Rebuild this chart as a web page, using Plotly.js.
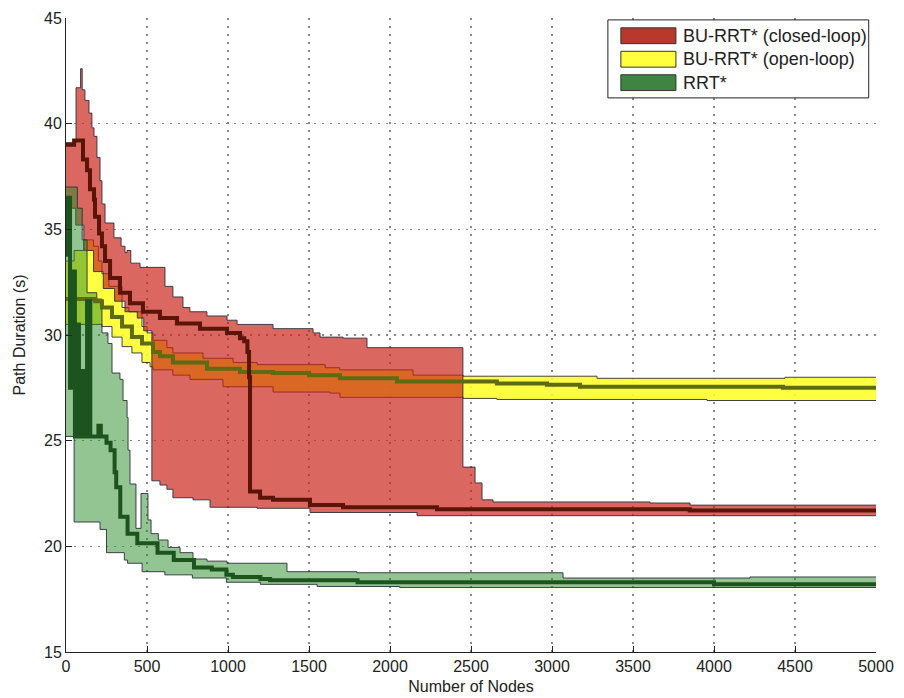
<!DOCTYPE html>
<html>
<head>
<meta charset="utf-8">
<script src="https://cdn.plot.ly/plotly-3.0.1.min.js"></script>
<style>html,body{margin:0;padding:0;background:#fff;}#chart{width:904px;height:698px;}</style>
</head>
<body>
<div id="chart"></div>
<script>
// ---- BU-RRT* (closed-loop) ----
var closedUpperX = [0, 62, 90, 100, 117, 142, 160, 173, 191, 210, 222, 241, 296, 340, 364, 377, 400, 457, 611, 660, 722, 765, 870, 994, 1056, 1278, 1525, 1568, 1710, 1858, 2450, 2525, 2568, 2636, 3605, 3852, 5000];
var closedUpperY = [39.1, 41.7, 42.6, 41.6, 41.1, 40.5, 39.8, 39.4, 38.4, 37.3, 36.2, 35.3, 34.6, 34.2, 33.9, 34.0, 33.4, 33.2, 32.3, 31.8, 31.3, 31.1, 30.9, 30.7, 30.5, 30.3, 30.1, 29.9, 29.85, 29.4, 23.75, 23.0, 22.2, 22.1, 22.05, 21.95, 21.95];
var closedLowerX = [0, 60, 110, 170, 230, 300, 364, 440, 480, 530, 580, 623, 660, 784, 889, 1179, 1506, 2167, 5000];
var closedLowerY = [36.0, 35.2, 34.0, 33.0, 32.2, 31.6, 31.1, 30.8, 30.2, 23.1, 22.9, 22.7, 22.3, 22.2, 21.85, 21.8, 21.6, 21.45, 21.45];
var closedMeanX = [0, 50, 105, 130, 148, 173, 179, 204, 222, 241, 272, 333, 395, 475, 580, 685, 827, 994, 1074, 1100, 1120, 1130, 1136, 1198, 1278, 1506, 1710, 2290, 3850, 5000];
var closedMeanY = [39.0, 39.2, 38.3, 37.8, 36.9, 36.4, 35.6, 34.8, 34.2, 33.5, 32.7, 32.0, 31.5, 31.1, 30.8, 30.55, 30.3, 30.1, 29.85, 29.7, 29.2, 28.0, 22.6, 22.3, 22.2, 21.95, 21.85, 21.75, 21.7, 21.7];

// ---- BU-RRT* (open-loop) ----
var openUpperX = [0, 50, 110, 170, 200, 222, 265, 346, 389, 469, 500, 537, 623, 660, 846, 1031, 1180, 1600, 1690, 2142, 2451, 3278, 4438, 5000];
var openUpperY = [33.5, 34.0, 34.5, 34.2, 33.5, 32.9, 32.3, 31.3, 31.1, 30.4, 30.1, 29.75, 29.4, 29.15, 28.9, 28.7, 28.6, 28.45, 28.35, 28.1, 28.05, 27.95, 28.0, 28.0];
var openLowerX = [0, 222, 284, 346, 407, 469, 519, 537, 660, 765, 969, 1278, 1630, 1691, 2451, 2660, 3957, 5000];
var openLowerY = [30.5, 30.4, 29.9, 29.45, 29.15, 28.7, 28.5, 28.35, 28.1, 27.9, 27.55, 27.3, 27.25, 27.05, 27.0, 26.95, 26.9, 26.9];
var openMeanX = [0, 180, 222, 284, 346, 407, 469, 537, 580, 660, 870, 1074, 1278, 1500, 1691, 2043, 2660, 2969, 3173, 4426, 5000];
var openMeanY = [31.7, 31.6, 31.3, 30.85, 30.4, 29.9, 29.6, 29.2, 29.0, 28.7, 28.4, 28.25, 28.2, 28.1, 27.95, 27.8, 27.7, 27.65, 27.55, 27.5, 27.5];

// ---- RRT* ----
var rrtUpperX = [0, 40, 70, 100, 130, 190, 222, 259, 284, 333, 352, 377, 383, 395, 432, 463, 506, 525, 570, 630, 704, 784, 870, 994, 1364, 1796, 3068, 4222, 5000];
var rrtUpperY = [37.0, 37.0, 36.0, 34.5, 32.0, 31.7, 30.1, 29.6, 28.2, 27.9, 26.9, 26.1, 24.55, 22.95, 20.85, 22.5, 21.25, 20.6, 20.3, 19.95, 19.7, 19.4, 19.3, 19.2, 18.8, 18.75, 18.5, 18.55, 18.55];
var rrtLowerX = [0, 50, 210, 250, 360, 380, 470, 610, 780, 990, 1200, 1550, 2060, 5000];
var rrtLowerY = [25.2, 21.15, 20.8, 19.7, 19.35, 19.2, 18.8, 18.65, 18.5, 18.3, 18.2, 18.1, 18.05, 18.05];
var rrtMeanX = [0, 12, 25, 40, 55, 70, 80, 100, 112, 130, 150, 200, 215, 250, 275, 300, 310, 335, 380, 440, 565, 665, 790, 900, 990, 1030, 1200, 1260, 1800, 4000, 5000];
var rrtMeanY = [33.8, 36.5, 27.5, 33.0, 25.2, 30.5, 25.2, 28.3, 25.2, 31.6, 25.2, 25.7, 25.2, 24.9, 24.55, 23.5, 22.8, 21.4, 20.6, 20.15, 19.7, 19.35, 19.0, 18.9, 18.65, 18.55, 18.45, 18.4, 18.3, 18.2, 18.2];

var seriesNames = ['BU-RRT* (closed-loop)', 'BU-RRT* (open-loop)', 'RRT*'];
var legendColors = ['#b8392c', '#ffff3c', '#3f8440'];
var xTicks = [0, 500, 1000, 1500, 2000, 2500, 3000, 3500, 4000, 4500, 5000];
var yTicks = [15, 20, 25, 30, 35, 40, 45];

var edge = {color: 'rgba(45,45,60,0.9)', width: 1, shape: 'hv'};

function band(lx, ly, ux, uy, fill, name) {
  return [
    {x: lx, y: ly, type: 'scatter', mode: 'lines', line: edge, showlegend: false, hoverinfo: 'skip'},
    {x: ux, y: uy, type: 'scatter', mode: 'lines', line: edge, fill: 'tonexty', fillcolor: fill,
     name: name, showlegend: false, hoverinfo: 'skip'}
  ];
}
function meanLine(x, y, color) {
  return {x: x, y: y, type: 'scatter', mode: 'lines', line: {color: color, width: 4, shape: 'hv'}, showlegend: false};
}

var traces = []
  .concat(band(openLowerX, openLowerY, openUpperX, openUpperY, 'rgba(255,255,40,0.88)', seriesNames[1]))
  .concat(band(closedLowerX, closedLowerY, closedUpperX, closedUpperY, 'rgba(200,32,22,0.68)', seriesNames[0]))
  .concat(band(rrtLowerX, rrtLowerY, rrtUpperX, rrtUpperY, 'rgba(40,140,40,0.5)', seriesNames[2]))
  .concat([
    meanLine(openMeanX, openMeanY, '#5d6b12'),
    meanLine(closedMeanX, closedMeanY, '#5a1408'),
    meanLine(rrtMeanX, rrtMeanY, '#1d541d')
  ]);

var fam = 'Liberation Sans, Arial, sans-serif';
var axFont = {family: fam, size: 16, color: '#222'};

// legend drawn as a box with patches and text (paper coordinates)
var legX0 = 0.669, legX1 = 0.991, legY0 = 0.874, legY1 = 0.997;
var rowY = [0.972, 0.935, 0.898];
var shapes = [{type: 'rect', xref: 'paper', yref: 'paper', x0: legX0, x1: legX1, y0: legY0, y1: legY1,
  fillcolor: '#fff', line: {color: '#222', width: 1}, layer: 'above'}];
var annotations = [];
seriesNames.forEach(function (n, i) {
  shapes.push({type: 'rect', xref: 'paper', yref: 'paper', x0: 0.685, x1: 0.753,
    y0: rowY[i] - 0.0125, y1: rowY[i] + 0.0125, fillcolor: legendColors[i],
    line: {color: '#333', width: 1}, layer: 'above'});
  annotations.push({xref: 'paper', yref: 'paper', x: 0.759, y: rowY[i], xanchor: 'left', yanchor: 'middle',
    text: n, showarrow: false, font: {family: fam, size: 18, color: '#222'}});
});

var layout = {
  width: 904, height: 698,
  margin: {l: 66, r: 28, t: 18, b: 46},
  paper_bgcolor: '#fff', plot_bgcolor: '#fff',
  font: axFont,
  showlegend: false,
  shapes: shapes,
  annotations: annotations,
  xaxis: {
    range: [0, 5000], tickvals: xTicks, ticktext: xTicks.map(String),
    showgrid: true, gridcolor: '#888', griddash: '2px,6px', gridwidth: 1.2,
    showline: true, linecolor: '#222', linewidth: 1, mirror: false,
    ticks: 'inside', ticklen: 6, tickcolor: '#222',
    zeroline: false, tickfont: axFont,
    title: {text: 'Number of Nodes', font: {family: fam, size: 16, color: '#222'}, standoff: 6}
  },
  yaxis: {
    range: [15, 45], tickvals: yTicks, ticktext: yTicks.map(String),
    showgrid: true, gridcolor: '#888', griddash: '2px,6px', gridwidth: 1.2,
    showline: true, linecolor: '#222', linewidth: 1, mirror: false,
    ticks: 'inside', ticklen: 6, tickcolor: '#222',
    zeroline: false, tickfont: axFont,
    title: {text: 'Path Duration (s)', font: {family: fam, size: 16, color: '#222'}, standoff: 14}
  }
};

Plotly.newPlot('chart', traces, layout, {displayModeBar: false, staticPlot: true});
</script>
</body>
</html>
